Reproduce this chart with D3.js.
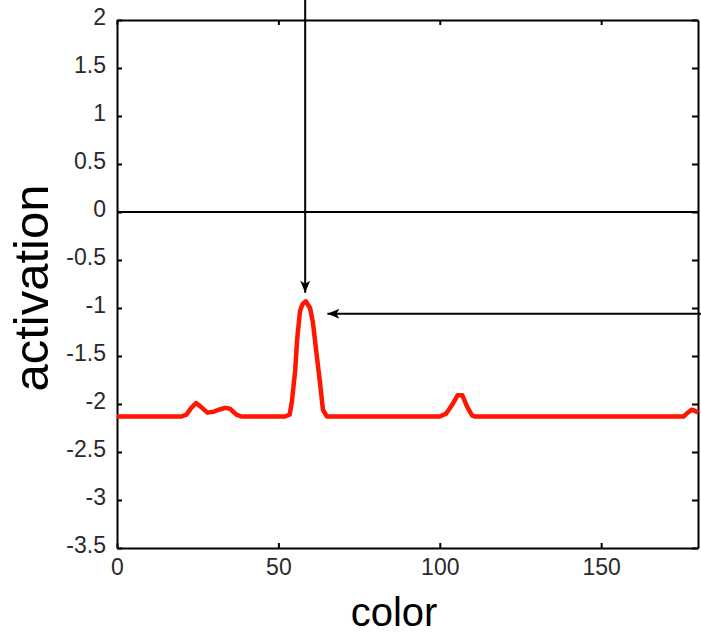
<!DOCTYPE html>
<html>
<head>
<meta charset="utf-8">
<script src="https://cdn.jsdelivr.net/npm/d3@7"></script>
<style>
  body { margin: 0; background: #fff; }
  svg { display: block; }
</style>
</head>
<body>
<div class="chart"></div>
<script>
// activation profile (color, activation)
const colors = [0, 20, 21.5, 23, 24.5, 26, 28, 30, 31.5, 33.5, 35, 37, 38.5,
  52, 53.5, 54.2, 55.2, 55.8, 56.7, 57.5, 58.5, 59.8, 60.7, 61.9, 62.9, 63.8, 65,
  100, 102, 104, 105.5, 107, 108.5, 110, 111, 175.5, 176.5, 178, 179, 180];
const activation = [-2.13, -2.13, -2.11, -2.04, -1.99, -2.03, -2.09, -2.08, -2.06, -2.04, -2.05, -2.11, -2.13,
  -2.13, -2.11, -1.97, -1.65, -1.33, -1.03, -0.96, -0.93, -1.0, -1.15, -1.5, -1.78, -2.06, -2.13,
  -2.13, -2.1, -2.0, -1.91, -1.91, -2.03, -2.12, -2.13, -2.13, -2.1, -2.06, -2.07, -2.09];

const xTicks = [0, 50, 100, 150];
const yTicks = [-3.5, -3, -2.5, -2, -1.5, -1, -0.5, 0, 0.5, 1, 1.5, 2];

// arrows pointing at the peak, in data units
const arrowDown = {x: 58.3, yFrom: 2.45, yTo: -0.84};
const arrowLeft = {y: -1.06, xFrom: 180.9, xTo: 65.2};

const W = 701, H = 637;
const margin = {top: 20, right: 3, bottom: 89, left: 117};
const width = W - margin.left - margin.right;
const height = H - margin.top - margin.bottom;

const svg = d3.select(".chart").append("svg")
  .attr("width", W).attr("height", H);

const g = svg.append("g").attr("transform", `translate(${margin.left},${margin.top})`);

const x = d3.scaleLinear().domain([0, 180]).range([0, width]);
const y = d3.scaleLinear().domain([-3.5, 2]).range([height, 0]);

const fmt = d => d.toString();

const xAxis = g.append("g").attr("transform", `translate(0,${height})`)
  .call(d3.axisBottom(x).tickValues(xTicks).tickFormat(fmt).tickSizeInner(-5).tickSizeOuter(0).tickPadding(10));
const yAxis = g.append("g")
  .call(d3.axisLeft(y).tickValues(yTicks).tickFormat(fmt).tickSizeInner(-5).tickSizeOuter(0).tickPadding(11));
g.append("g")
  .call(d3.axisTop(x).tickValues(xTicks).tickFormat("").tickSizeInner(-5).tickSizeOuter(0));
g.append("g").attr("transform", `translate(${width},0)`)
  .call(d3.axisRight(y).tickValues(yTicks).tickFormat("").tickSizeInner(-6).tickSizeOuter(0));

g.selectAll(".domain").attr("stroke", "#000").attr("stroke-width", 2);
g.selectAll(".tick line").attr("stroke", "#000").attr("stroke-width", 2);
g.selectAll(".tick text")
  .attr("fill", "#2a2a2a")
  .style("font-family", "'Liberation Sans', Arial, sans-serif")
  .style("font-size", "23px");
yAxis.selectAll(".tick text").attr("dy", "0.2em");
xAxis.selectAll(".tick text").attr("dy", "0.72em");

// zero line
g.append("line")
  .attr("x1", x(0)).attr("x2", x(180))
  .attr("y1", y(0)).attr("y2", y(0))
  .attr("stroke", "#000").attr("stroke-width", 2);

// activation curve
const pts = colors.map((c, i) => [c, activation[i]]);
g.append("path")
  .datum(pts)
  .attr("fill", "none")
  .attr("stroke", "#ff1500")
  .attr("stroke-width", 4.5)
  .attr("stroke-linejoin", "round")
  .attr("d", d3.line().x(d => x(d[0])).y(d => y(d[1])));

// arrows
svg.append("defs").append("marker")
  .attr("id", "head")
  .attr("viewBox", "0 0 12 10")
  .attr("refX", 12).attr("refY", 5)
  .attr("markerWidth", 12).attr("markerHeight", 10)
  .attr("markerUnits", "userSpaceOnUse")
  .attr("orient", "auto")
  .append("path")
  .attr("d", "M0,0 L12,5 L0,10 L3,5 Z")
  .attr("fill", "#000");

g.append("line")
  .attr("x1", x(arrowDown.x)).attr("x2", x(arrowDown.x))
  .attr("y1", y(arrowDown.yFrom)).attr("y2", y(arrowDown.yTo))
  .attr("stroke", "#000").attr("stroke-width", 2)
  .attr("marker-end", "url(#head)");

g.append("line")
  .attr("x1", x(arrowLeft.xFrom)).attr("x2", x(arrowLeft.xTo))
  .attr("y1", y(arrowLeft.y)).attr("y2", y(arrowLeft.y))
  .attr("stroke", "#000").attr("stroke-width", 2)
  .attr("marker-end", "url(#head)");

// axis titles
svg.append("text")
  .attr("transform", `translate(48,288) rotate(-90)`)
  .attr("text-anchor", "middle")
  .style("font-family", "'Liberation Sans', Arial, sans-serif")
  .style("font-size", "49px")
  .attr("fill", "#000")
  .text("activation");

svg.append("text")
  .attr("x", 394).attr("y", 626)
  .attr("text-anchor", "middle")
  .style("font-family", "'Liberation Sans', Arial, sans-serif")
  .style("font-size", "40px")
  .attr("fill", "#000")
  .text("color");
</script>
</body>
</html>
